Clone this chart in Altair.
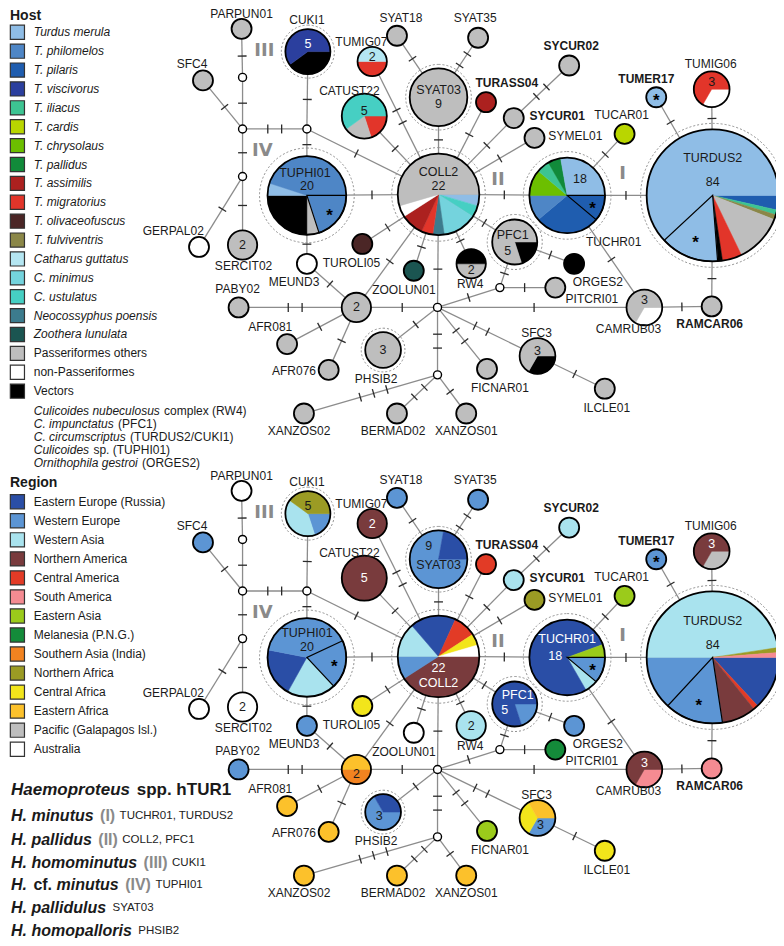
import math
import altair as alt
import pandas as pd

FONT = "Liberation Sans"

# ---------------- categories ----------------
HOST_CATS = ["Turdus merula", "T. philomelos", "T. pilaris", "T. viscivorus", "T. iliacus",
             "T. cardis", "T. chrysolaus", "T. pallidus", "T. assimilis", "T. migratorius",
             "T. olivaceofuscus", "T. fulviventris", "Catharus guttatus", "C. minimus",
             "C. ustulatus", "Neocossyphus poensis", "Zoothera lunulata",
             "Passeriformes others", "non-Passeriformes", "Vectors"]
HOST_COLORS = ["#8FBDE6", "#4E86C6", "#1F5DAF", "#2B3F9E", "#3DC492",
               "#B9D600", "#6CBF00", "#118A3A", "#AC211F", "#E2352A",
               "#4B2626", "#8B8748", "#B4E6F2", "#74D3DD",
               "#46CFC3", "#3C7B8D", "#1B5551",
               "#BEBEBE", "#FFFFFF", "#000000"]
HOST_ITALIC = [True] * 17 + [False] * 3

VEC_NOTES = [[("Culicoides nubeculosus", "i"), ("complex (RW4)", "r")],
             [("C. impunctatus", "i"), ("(PFC1)", "r")],
             [("C. circumscriptus", "i"), ("(TURDUS2/CUKI1)", "r")],
             [("Culicoides", "i"), ("sp. (TUPHI01)", "r")],
             [("Ornithophila gestroi", "i"), ("(ORGES2)", "r")]]

REGION_CATS = ["Eastern Europe (Russia)", "Western Europe", "Western Asia", "Northern America",
               "Central America", "South America", "Eastern Asia", "Melanesia (P.N.G.)",
               "Southern Asia (India)", "Northern Africa", "Central Africa", "Eastern Africa",
               "Pacific (Galapagos Isl.)", "Australia"]
REGION_COLORS = ["#2A4EA6", "#5C95D4", "#A9E3EE", "#793B3D",
                 "#E23B26", "#F58B92", "#9BCB1B", "#148B3A",
                 "#F28320", "#9B9B24", "#F2E51B", "#FCC12B",
                 "#BEBEBE", "#FFFFFF"]

# ---------------- network nodes ----------------
NODE_NAMES = ["PARPUN01", "M1", "M2", "M3", "M4", "SFC4", "CUKI1", "TUMIG07", "SYAT18", "SYAT35",
              "SYAT03", "CATUST22", "COLL2", "TUPHI01", "TURASS04", "SYCUR02", "SYCUR01", "SYMEL01",
              "TUCAR01", "TUMER17", "TUMIG06", "TUCHR01", "TURDUS2", "PFC1", "ORGES2", "M6",
              "PITCRI01", "CAMRUB03", "RAMCAR06", "SFC3", "ILCLE01", "FICNAR01", "TUROLI05",
              "ZOOLUN01", "RW4", "SERCIT02", "GERPAL02", "MEUND3", "PABY02", "H2", "M5",
              "AFR081", "AFR076", "PHSIB2", "M7", "XANZOS02", "BERMAD02", "XANZOS01"]
NODE_X = [236, 237, 237, 302, 237, 197, 303, 368, 393, 475,
          435, 360, 435, 302, 483, 567, 511, 532,
          623, 655, 711, 565, 712, 512, 572, 497,
          553, 643, 711, 535, 603, 484, 358,
          410, 468, 237, 193, 302, 233, 352, 434,
          282, 324, 379, 434, 299, 393, 463]
NODE_Y = [25, 74, 126, 126, 174, 77, 48, 58, 32, 34,
          94, 113, 192, 193, 99, 62, 115, 135,
          131, 94, 86, 193, 193, 240, 262, 286,
          286, 306, 305, 355, 388, 368, 242,
          269, 262, 243, 245, 262, 306, 306, 306,
          343, 369, 349, 374, 413, 413, 413]
MEDIANS = ["M1", "M2", "M3", "M4", "M5", "M6", "M7"]

EDGE_FROM = ["PARPUN01", "M1", "M2", "M2", "M2", "M4", "M4", "M3", "M3", "M3", "TUPHI01",
             "TUPHI01", "MEUND3", "H2", "H2", "H2", "H2", "H2", "COLL2", "COLL2", "COLL2",
             "COLL2", "COLL2", "COLL2", "COLL2", "COLL2", "SYAT03", "SYAT03", "COLL2", "COLL2",
             "SYCUR01", "COLL2", "COLL2", "TUCHR01", "TUCHR01", "TURDUS2", "TURDUS2", "TURDUS2",
             "RAMCAR06", "CAMRUB03", "CAMRUB03", "M5", "M6", "M6", "PFC1", "M5", "SFC3", "M5",
             "M5", "M5", "M7", "M7", "M7"]
EDGE_TO = ["M1", "M2", "SFC4", "M3", "M4", "SERCIT02", "GERPAL02", "CUKI1", "TUPHI01", "COLL2",
           "COLL2", "MEUND3", "H2", "PABY02", "AFR081", "AFR076", "COLL2", "M5", "TUROLI05",
           "ZOOLUN01", "M5", "RW4", "PFC1", "CATUST22", "TUMIG07", "SYAT03", "SYAT18", "SYAT35",
           "TURASS04", "SYCUR01", "SYCUR02", "SYMEL01", "TUCHR01", "TURDUS2", "TUCAR01",
           "TUMER17", "TUMIG06", "RAMCAR06", "CAMRUB03", "M5", "TUCHR01", "M6", "PFC1",
           "PITCRI01", "ORGES2", "SFC3", "ILCLE01", "FICNAR01", "PHSIB2", "M7", "XANZOS02",
           "BERMAD02", "XANZOS01"]
EDGE_TICKS = [1, 1, 1, 2, 1, 1, 1, 1, 1, 1, 1,
              1, 1, 2, 1, 1, 1, 1, 1, 1, 1,
              1, 1, 1, 2, 1, 1, 2, 1, 1,
              2, 1, 1, 1, 1, 1, 1, 1,
              1, 1, 1, 1, 1, 1, 1, 2, 1, 2,
              1, 2, 3, 2, 1]

# ---------------- pie compositions (clockwise from 3 o'clock) ----------------
G = "Passeriformes others"
HOST_PIES = {
    "PARPUN01": [[G, 1]], "SFC4": [[G, 1]],
    "CUKI1": [["Vectors", 2], ["T. viscivorus", 3]],
    "TUMIG07": [["T. migratorius", 1], ["Catharus guttatus", 1]],
    "SYAT18": [[G, 1]], "SYAT35": [[G, 1]], "SYAT03": [[G, 9]],
    "CATUST22": [["T. migratorius", 1], [G, 1], ["C. ustulatus", 3]],
    "COLL2": [["Turdus merula", 1], ["C. ustulatus", 1], ["C. minimus", 3],
              ["Neocossyphus poensis", 1], ["T. migratorius", 1], ["T. assimilis", 2],
              ["non-Passeriformes", 1], [G, 12]],
    "TUPHI01": [["T. philomelos", 4, 1], [G, 1], ["Vectors", 5], ["Turdus merula", 1],
                ["T. philomelos", 9]],
    "TURASS04": [["T. assimilis", 1]], "SYCUR02": [[G, 1]], "SYCUR01": [[G, 1]],
    "SYMEL01": [[G, 1]], "TUCAR01": [["T. cardis", 1]],
    "TUMER17": [["Turdus merula", 1, 1]],
    "TUMIG06": [["non-Passeriformes", 1], ["T. migratorius", 2]],
    "TUCHR01": [["T. pilaris", 2, 1], ["T. pilaris", 5], ["T. philomelos", 2],
                ["T. chrysolaus", 2], ["T. iliacus", 1], ["T. pallidus", 1],
                ["Turdus merula", 5]],
    "TURDUS2": [["T. pilaris", 3], ["T. iliacus", 1], ["T. fulviventris", 1], [G, 10],
                ["T. migratorius", 4], ["Vectors", 1], ["Turdus merula", 12, 1],
                ["Turdus merula", 52]],
    "PFC1": [["Vectors", 1], [G, 4]], "ORGES2": [["Vectors", 1]], "PITCRI01": [[G, 1]],
    "CAMRUB03": [["non-Passeriformes", 1], [G, 2]], "RAMCAR06": [[G, 1]],
    "SFC3": [["Vectors", 1], [G, 2]], "ILCLE01": [[G, 1]], "FICNAR01": [[G, 1]],
    "TUROLI05": [["T. olivaceofuscus", 1]], "ZOOLUN01": [["Zoothera lunulata", 1]],
    "RW4": [[G, 1], ["Vectors", 1]], "SERCIT02": [[G, 2]],
    "GERPAL02": [["non-Passeriformes", 1]], "MEUND3": [["non-Passeriformes", 1]],
    "PABY02": [[G, 1]], "H2": [[G, 2]], "AFR081": [[G, 1]], "AFR076": [[G, 1]],
    "PHSIB2": [[G, 3]], "XANZOS02": [[G, 1]], "BERMAD02": [[G, 1]], "XANZOS01": [[G, 1]],
}
EE, WE, WA, NA, CA, SA = REGION_CATS[:6]
EAS, MEL, SAS, NAF, CAF, EAF, PAC, AUS = REGION_CATS[6:]
REGION_PIES = {
    "PARPUN01": [[AUS, 1]], "SFC4": [[WE, 1]],
    "CUKI1": [[WE, 1], [WA, 2], [NAF, 2]],
    "TUMIG07": [[NA, 2]], "SYAT18": [[WE, 1]], "SYAT35": [[WE, 1]],
    "SYAT03": [[WE, 7], [EE, 2]], "CATUST22": [[NA, 5]],
    "COLL2": [[NA, 9], [WE, 2], [WA, 3], [EE, 4], [CA, 2], [CAF, 1], [AUS, 1]],
    "TUPHI01": [[WE, 4, 1], [WA, 4], [EE, 4], [WE, 8]],
    "TURASS04": [[CA, 1]], "SYCUR02": [[WA, 1]], "SYCUR01": [[WA, 1]], "SYMEL01": [[NAF, 1]],
    "TUCAR01": [[EAS, 1]], "TUMER17": [[WE, 1, 1]],
    "TUMIG06": [[PAC, 1], [NA, 2]],
    "TUCHR01": [[WE, 2, 1], [WA, 1], [EE, 14], [EAS, 1]],
    "TURDUS2": [[EE, 11], [CA, 1], [NA, 7], [WE, 12, 1], [WE, 11], [WA, 40], [NAF, 1], [SA, 1]],
    "PFC1": [[WE, 1], [EE, 4]], "ORGES2": [[WE, 1]], "PITCRI01": [[MEL, 1]],
    "CAMRUB03": [[SA, 1], [NA, 2]], "RAMCAR06": [[SA, 1]],
    "SFC3": [[WE, 1], [CAF, 1], [EAF, 1]], "ILCLE01": [[CAF, 1]], "FICNAR01": [[EAS, 1]],
    "TUROLI05": [[CAF, 1]], "ZOOLUN01": [[AUS, 1]], "RW4": [[WA, 2]],
    "SERCIT02": [[AUS, 2]], "GERPAL02": [[AUS, 1]], "MEUND3": [[WE, 1]], "PABY02": [[WE, 1]],
    "H2": [[SAS, 1], [EAF, 1]], "AFR081": [[EAF, 1]], "AFR076": [[EAF, 1]],
    "PHSIB2": [[WE, 2], [EE, 1]], "XANZOS02": [[EAF, 1]], "BERMAD02": [[EAF, 1]],
    "XANZOS01": [[EAF, 1]],
}
PIE_START = {("region", "TUPHI01"): -25}

RING_GAP = {"CUKI1": 4, "SYAT03": 4, "TUPHI01": 8, "COLL2": 6, "PHSIB2": 4, "PFC1": 5,
            "TUCHR01": 6, "TURDUS2": 6}

# label offsets (layout)
LABEL_OFF = {
    "PARPUN01": (0, -15), "SFC4": (-11, -17), "CUKI1": (-1, -32), "TUMIG07": (-11, -20),
    "SYAT18": (4, -18), "SYAT35": (-3, -20), "CATUST22": (-15, -25), "TURASS04": (21, -19),
    "SYCUR02": (2, -20), "SYCUR01": (16, -2), "SYMEL01": (14, -2), "TUCAR01": (-3, -19),
    "TUMER17": (-10, -18), "TUMIG06": (-1, -26), "TUCHR01": (47, 47), "ORGES2": (24, 18),
    "PITCRI01": (37, 11), "CAMRUB03": (-16, 22), "RAMCAR06": (-2, 18), "SFC3": (-1, -23),
    "ILCLE01": (2, 19), "FICNAR01": (13, 19), "XANZOS01": (0, 18), "BERMAD02": (-4, 18),
    "XANZOS02": (-5, 18), "PHSIB2": (-7, 29), "AFR076": (-35, 1), "AFR081": (-17, -17),
    "PABY02": (-1, -19), "MEUND3": (-13, 18), "SERCIT02": (1, 21), "GERPAL02": (-26, -16),
    "TUROLI05": (-11, 19), "ZOOLUN01": (-10, 19), "RW4": (-1, 20),
}
LEFT_LABELS = {"SYCUR01", "SYMEL01"}
BOLD_LABELS = {"SYCUR02", "TURASS04", "SYCUR01", "TUMER17", "RAMCAR06"}
TOP_ONLY_LABELS = {"TUCHR01"}

INNER = [
    ("host", "CUKI1", "5", 0, -8, 1), ("host", "TUMIG07", "2", 0, -5, 0),
    ("host", "CATUST22", "5", 0, -5, 0), ("host", "SYAT03", "SYAT03", 0, -7, 0),
    ("host", "SYAT03", "9", 0, 7, 0), ("host", "COLL2", "COLL2", 0, -23, 0),
    ("host", "COLL2", "22", 0, -8, 0), ("host", "TUPHI01", "TUPHI01", -2, -23, 0),
    ("host", "TUPHI01", "20", 0, -9, 0), ("host", "TUCHR01", "18", 13, -17, 0),
    ("host", "TURDUS2", "TURDUS2", 0, -38, 0), ("host", "TURDUS2", "84", 0, -13, 0),
    ("host", "PFC1", "PFC1", -2, -7, 0), ("host", "PFC1", "5", -7, 9, 0),
    ("host", "RW4", "2", 0, 6, 0), ("host", "TUMIG06", "3", 0, -7, 0),
    ("host", "CAMRUB03", "3", 0, -7, 0), ("host", "SFC3", "3", 0, -5, 0),
    ("host", "SERCIT02", "2", 0, 0, 0), ("host", "H2", "2", 0, 0, 0),
    ("host", "PHSIB2", "3", 0, 0, 0),
    ("region", "CUKI1", "5", 0, -8, 0), ("region", "TUMIG07", "2", 0, 0, 1),
    ("region", "CATUST22", "5", 0, 0, 1), ("region", "SYAT03", "9", -10, -13, 0),
    ("region", "SYAT03", "SYAT03", 0, 6, 0), ("region", "COLL2", "22", 0, 12, 1),
    ("region", "COLL2", "COLL2", 0, 27, 1), ("region", "TUPHI01", "TUPHI01", 0, -25, 0),
    ("region", "TUPHI01", "20", 0, -11, 0), ("region", "TUCHR01", "TUCHR01", 0, -19, 1),
    ("region", "TUCHR01", "18", -12, -1, 1), ("region", "TURDUS2", "TURDUS2", 0, -37, 0),
    ("region", "TURDUS2", "84", 0, -13, 0), ("region", "PFC1", "PFC1", 3, -9, 1),
    ("region", "PFC1", "5", -10, 6, 1), ("region", "RW4", "2", 0, 0, 0),
    ("region", "TUMIG06", "3", 0, -7, 1), ("region", "CAMRUB03", "3", 0, -7, 1),
    ("region", "SFC3", "3", 3, 7, 0), ("region", "SERCIT02", "2", 0, 0, 0),
    ("region", "H2", "2", 0, 5, 0), ("region", "PHSIB2", "3", -4, 4, 0),
]

GROUP_TXT = ["III", "IV", "II", "I"]
GROUP_X = [259, 257, 495, 621]
GROUP_Y = [47, 148, 177, 171]

PANEL_DY = {"host": 0, "region": 466}

DESC_Y = [819, 843, 866, 889, 912, 935]
DESC = [[("H. minutus", "bi"), ("(I)", "g"), ("TUCHR01, TURDUS2", "s")],
        [("H. pallidus", "bi"), ("(II)", "g"), ("COLL2, PFC1", "s")],
        [("H. homominutus", "bi"), ("(III)", "g"), ("CUKI1", "s")],
        [("H.", "bi"), ("cf.", "b"), ("minutus", "bi"), ("(IV)", "g"), ("TUPHI01", "s")],
        [("H. pallidulus", "bi"), ("SYAT03", "s")],
        [("H. homopalloris", "bi"), ("PHSIB2", "s")]]

# ---------------- text width helper (Arial metrics, /1000 em) ----------------
_REG = {' ': 278, '(': 333, ')': 333, '.': 278, ',': 278, '/': 278, '*': 389}
_BLD = {' ': 278, '(': 333, ')': 333, '.': 278, ',': 278, '/': 278}
for ch in "0123456789":
    _REG[ch] = 556
    _BLD[ch] = 556
for ch, w in zip("ABCDEFGHIJKLMNOPQRSTUVWXYZ",
                 [667, 667, 722, 722, 667, 611, 778, 722, 278, 500, 667, 556, 833, 722, 778, 667,
                  778, 722, 667, 611, 722, 667, 944, 667, 667, 611]):
    _REG[ch] = w
for ch, w in zip("ABCDEFGHIJKLMNOPQRSTUVWXYZ",
                 [722, 722, 722, 722, 667, 611, 778, 722, 278, 556, 722, 611, 833, 722, 778, 667,
                  778, 722, 667, 611, 722, 667, 944, 667, 667, 611]):
    _BLD[ch] = w
for ch, w in zip("abcdefghijklmnopqrstuvwxyz",
                 [556, 556, 500, 556, 556, 278, 556, 556, 222, 222, 500, 222, 833, 556, 556, 556,
                  556, 333, 500, 278, 556, 500, 722, 500, 500, 500]):
    _REG[ch] = w
for ch, w in zip("abcdefghijklmnopqrstuvwxyz",
                 [556, 611, 556, 611, 556, 333, 611, 611, 278, 278, 556, 278, 889, 611, 611, 611,
                  611, 389, 556, 333, 611, 556, 778, 556, 556, 500]):
    _BLD[ch] = w

XDOM = [0, 776]
YDOM = [4, 942]
SX = 768.0 / (XDOM[1] - XDOM[0])


def twidth(s, size, bold=False):
    tab = _BLD if bold else _REG
    return sum(tab.get(c, 556) for c in s) * size / 1000.0 / SX


# ---------------- derived tables ----------------
def rad(n):
    return 4.0 if n == 0 else 10 + 56 * (n ** 0.3 - 1) / (84 ** 0.3 - 1)

TWO_PI = 2 * math.pi
pos = dict(zip(NODE_NAMES, zip(NODE_X, NODE_Y)))
count = {k: sum(p[1] for p in v) for k, v in HOST_PIES.items()}
for m in MEDIANS:
    count[m] = 0
R = {k: rad(count[k]) for k in NODE_NAMES}

slices, borders, stars, outlines, rings, medians = [], [], [], [], [], []
for panel, pies in (("host", HOST_PIES), ("region", REGION_PIES)):
    dy = PANEL_DY[panel]
    for node, parts in pies.items():
        x, y = pos[node]
        y += dy
        r = R[node]
        tot = sum(p[1] for p in parts)
        a = PIE_START.get((panel, node), 0.0)
        outlines.append(dict(x=x, y=y, r=r, t0=0.0, t1=TWO_PI))
        if node in RING_GAP:
            rings.append(dict(x=x, y=y, r=r + RING_GAP[node], t0=0.0, t1=TWO_PI))
        for p in parts:
            span = 360.0 * p[1] / tot
            if len(parts) == 1:
                t0, t1 = 0.0, TWO_PI
            else:
                t0, t1 = math.radians(90 + a), math.radians(90 + a + span)
            slices.append(dict(x=x, y=y, r=r, t0=t0, t1=t1, cat=p[0]))
            if len(p) > 2 and p[2]:
                if len(parts) == 1:
                    stars.append(dict(x=x, y=y))
                else:
                    borders.append(dict(x=x, y=y, r=r, t0=t0, t1=t1))
                    mid = math.radians(a + span / 2)
                    stars.append(dict(x=x + 0.72 * r * math.cos(mid),
                                      y=y + 0.72 * r * math.sin(mid)))
            a += span
    for m in MEDIANS:
        x, y = pos[m]
        medians.append(dict(x=x, y=y + dy, r=R[m], t0=0.0, t1=TWO_PI))

edges, ticks = [], []
for panel, dy in PANEL_DY.items():
    for a, b, n in zip(EDGE_FROM, EDGE_TO, EDGE_TICKS):
        (x1, y1), (x2, y2) = pos[a], pos[b]
        edges.append(dict(x=x1, y=y1 + dy, x2=x2, y2=y2 + dy))
        L = math.hypot(x2 - x1, y2 - y1)
        ux, uy = (x2 - x1) / L, (y2 - y1) / L
        m = (R[a] + L - R[b]) / 2
        for k in range(n):
            s = m + (k - (n - 1) / 2) * 14
            cx, cy = x1 + ux * s, y1 + uy * s + dy
            px, py = -uy * 4.5, ux * 4.5
            ticks.append(dict(x=cx - px, y=cy - py, x2=cx + px, y2=cy + py))

labels = []
for panel, dy in PANEL_DY.items():
    for node, (ddx, ddy) in LABEL_OFF.items():
        if panel == "region" and node in TOP_ONLY_LABELS:
            continue
        x, y = pos[node]
        labels.append(dict(x=x + ddx, y=y + dy + ddy, t=node,
                           bold=node in BOLD_LABELS, left=node in LEFT_LABELS))
labels = pd.DataFrame(labels)

inner = pd.DataFrame([dict(x=pos[n][0] + dx, y=pos[n][1] + PANEL_DY[p] + dy, t=t,
                           c="#ffffff" if w else "#1a1a1a")
                      for p, n, t, dx, dy, w in INNER])

groups = pd.DataFrame([dict(x=gx, y=gy + dy, t=gt) for dy in PANEL_DY.values()
                       for gt, gx, gy in zip(GROUP_TXT, GROUP_X, GROUP_Y)])

HOST_Y = [28.5 + 19.05 * i for i in range(len(HOST_CATS))]
REG_Y = [502 + 19.2 * i for i in range(len(REGION_CATS))]
leg_sq = pd.DataFrame([dict(x=9.5, y=HOST_Y[i], cat=c) for i, c in enumerate(HOST_CATS)] +
                      [dict(x=9.5, y=REG_Y[i], cat=c) for i, c in enumerate(REGION_CATS)])
leg_rows = ([dict(x=26, y=HOST_Y[i], t=c, s="i" if HOST_ITALIC[i] else "r")
             for i, c in enumerate(HOST_CATS)] +
            [dict(x=26, y=REG_Y[i], t=c, s="r") for i, c in enumerate(REGION_CATS)])
for k, segs in enumerate(VEC_NOTES):
    xx = 26.0
    for t, s in segs:
        leg_rows.append(dict(x=xx, y=410.5 + 13.0 * k, t=t, s=s))
        xx += twidth(t + " ", 12) + 1
leg_txt = pd.DataFrame(leg_rows)

SIZES = {"bi": 16, "b": 16, "g": 16, "s": 11.5}
desc_rows = []
for ln, segs in enumerate(DESC):
    xx = 3.0
    for t, s in segs:
        desc_rows.append(dict(x=xx, y=DESC_Y[ln], t=t, s=s))
        xx += twidth(t + " ", SIZES[s], bold=(s != "s")) + (2 if s == "bi" else 0)
desc = pd.DataFrame(desc_rows)

# ---------------- encodings ----------------
X = alt.X("x:Q", scale=alt.Scale(domain=XDOM, nice=False, zero=False), axis=None)
Y = alt.Y("y:Q", scale=alt.Scale(domain=YDOM, nice=False, zero=False, reverse=True), axis=None)
CS = alt.Scale(domain=HOST_CATS + REGION_CATS, range=HOST_COLORS + REGION_COLORS)
RAD = alt.Radius("r:Q", scale=None)
TH = alt.Theta("t0:Q", scale=None, stack=None)


def txt(df, size=12, weight="normal", style="normal", align="center", color="#1a1a1a",
        font=FONT, field_color=False):
    enc = dict(x=X, y=Y, text="t:N")
    mk = dict(fontSize=size, fontWeight=weight, fontStyle=style, align=align,
              baseline="middle", font=font)
    if field_color:
        enc["color"] = alt.Color("c:N", scale=None)
    else:
        mk["color"] = color
    return alt.Chart(df).mark_text(**mk).encode(**enc)


layers = []
layers.append(alt.Chart(pd.DataFrame(edges)).mark_rule(color="#8c8c8c", strokeWidth=1.3)
              .encode(x=X, y=Y, x2="x2:Q", y2="y2:Q"))
layers.append(alt.Chart(pd.DataFrame(ticks)).mark_rule(color="#2a2a2a", strokeWidth=1.3)
              .encode(x=X, y=Y, x2="x2:Q", y2="y2:Q"))
layers.append(alt.Chart(pd.DataFrame(rings))
              .mark_arc(fillOpacity=0, stroke="#8f8f8f", strokeWidth=1, strokeDash=[2, 2])
              .encode(x=X, y=Y, radius=RAD, theta=TH, theta2="t1:Q"))
layers.append(alt.Chart(pd.DataFrame(slices)).mark_arc(strokeWidth=0.5)
              .encode(x=X, y=Y, radius=RAD, theta=TH, theta2="t1:Q",
                      color=alt.Color("cat:N", scale=CS, legend=None),
                      stroke=alt.Stroke("cat:N", scale=CS, legend=None)))
layers.append(alt.Chart(pd.DataFrame(borders))
              .mark_arc(fillOpacity=0, stroke="#000000", strokeWidth=1.2)
              .encode(x=X, y=Y, radius=RAD, theta=TH, theta2="t1:Q"))
layers.append(alt.Chart(pd.DataFrame(outlines))
              .mark_arc(fillOpacity=0, stroke="#000000", strokeWidth=1.8)
              .encode(x=X, y=Y, radius=RAD, theta=TH, theta2="t1:Q"))
layers.append(alt.Chart(pd.DataFrame(medians))
              .mark_arc(fill="#ffffff", stroke="#000000", strokeWidth=1.4)
              .encode(x=X, y=Y, radius=RAD, theta=TH, theta2="t1:Q"))
layers.append(alt.Chart(pd.DataFrame(stars)).transform_calculate(t="'*'")
              .mark_text(fontSize=17, fontWeight="bold", font=FONT, color="#000000",
                         baseline="middle", dy=4)
              .encode(x=X, y=Y, text="t:N"))
layers.append(txt(labels[(~labels.bold) & (~labels.left)]))
layers.append(txt(labels[(labels.bold) & (~labels.left)], weight="bold"))
layers.append(txt(labels[(~labels.bold) & (labels.left)], align="left"))
layers.append(txt(labels[(labels.bold) & (labels.left)], weight="bold", align="left"))
layers.append(txt(inner, size=12.5, field_color=True))
layers.append(txt(groups, size=18, weight="bold", color="#8a8a8a", font="DejaVu Sans"))
layers.append(alt.Chart(leg_sq).mark_square(size=200, stroke="#333333", strokeWidth=1.2,
                                            opacity=1)
              .encode(x=X, y=Y, color=alt.Color("cat:N", scale=CS, legend=None)))
layers.append(txt(leg_txt[leg_txt.s == "i"], style="italic", align="left"))
layers.append(txt(leg_txt[leg_txt.s == "r"], align="left"))
heads = pd.DataFrame([dict(x=2, y=12, t="Host"), dict(x=2, y=483, t="Region")])
layers.append(txt(heads, size=14, weight="bold", align="left"))
title = pd.DataFrame([dict(x=3, y=793, t="Haemoproteus", s="bi"),
                      dict(x=3 + twidth("Haemoproteus ", 17, True) + 2, y=793, t="spp. hTUR1",
                           s="b")])
layers.append(txt(title[title.s == "bi"], size=17, weight="bold", style="italic", align="left"))
layers.append(txt(title[title.s == "b"], size=17, weight="bold", align="left"))
layers.append(txt(desc[desc.s == "bi"], size=16, weight="bold", style="italic", align="left"))
layers.append(txt(desc[desc.s == "b"], size=16, weight="bold", align="left"))
layers.append(txt(desc[desc.s == "g"], size=16, weight="bold", align="left", color="#8a8a8a"))
layers.append(txt(desc[desc.s == "s"], size=11.5, align="left", color="#222222"))

chart = (alt.layer(*layers)
         .properties(width=768, height=930, padding=0, autosize="none", background="#ffffff")
         .configure_view(stroke=None))

chart.save("out.html", embed_options={"renderer": "svg", "actions": False})
